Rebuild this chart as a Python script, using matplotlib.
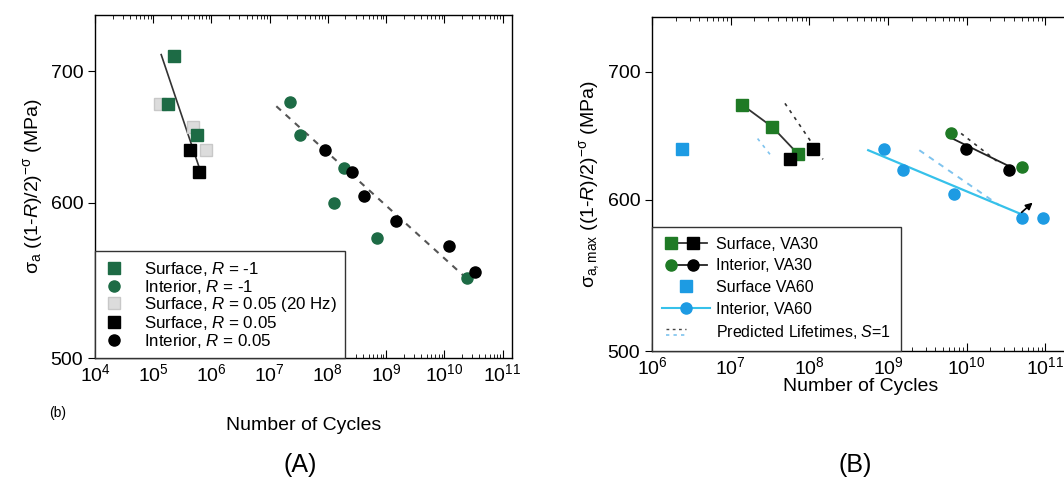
import matplotlib
matplotlib.use('Agg')
import matplotlib.pyplot as plt
from matplotlib.lines import Line2D
from matplotlib.legend_handler import HandlerBase
from matplotlib.ticker import NullLocator, FixedLocator, FixedFormatter, LogLocator

plt.rcParams['font.family'] = ['Liberation Sans', 'DejaVu Sans']
plt.rcParams['mathtext.fontset'] = 'custom'
plt.rcParams['mathtext.rm'] = 'Liberation Sans'
plt.rcParams['mathtext.it'] = 'Liberation Sans:italic'

# ---- panel A data ----
surf_m1_N = [2.3e5, 1.8e5, 5.7e5]
surf_m1_S = [713, 674, 650]
int_m1_N = [2.2e7, 3.3e7, 1.27e8, 1.9e8, 7.0e8, 2.4e10]
int_m1_S = [675, 650, 600, 625, 576, 549]
surf_20hz_N = [1.32e5, 4.9e5, 8.2e5]
surf_20hz_S = [674, 656, 638]
surf_005_N = [4.2e5, 6.2e5]
surf_005_S = [638, 622]
int_005_N = [8.9e7, 2.6e8, 4.2e8, 1.5e9, 1.2e10, 3.4e10]
int_005_S = [638, 622, 605, 587, 570, 553]
surf_fit_N = [1.37e5, 6.2e5]
surf_fit_S = [714, 625]
int_fit_N = [1.3e7, 2.4e10]
int_fit_S = [672, 549]

# ---- panel B data ----
va30_sq_green_N = [1.39e7, 3.4e7, 7.2e7]
va30_sq_green_S = [673, 655, 634]
va30_sq_black_N = [5.7e7, 1.1e8]
va30_sq_black_S = [630, 638]
va30_ci_green_N = [6.3e9, 5.1e10]
va30_ci_green_S = [650, 624]
va30_ci_black_N = [9.8e9, 3.5e10]
va30_ci_black_S = [638, 622]
va30_int_line_N = [6.6e9, 3.7e10]
va30_int_line_S = [646, 624]
va60_surf_N = [2.4e6]
va60_surf_S = [638]
va60_int_N = [8.9e8, 1.55e9, 6.9e9, 5.0e10, 9.3e10]
va60_int_S = [638, 622, 604, 587, 587]
va60_fit_N = [5.6e8, 4.8e10]
va60_fit_S = [637, 590]
pred_va30_surf_N = [4.9e7, 1.49e8]
pred_va30_surf_S = [674, 630]
pred_va60_surf_N = [2.2e7, 3.44e7]
pred_va60_surf_S = [646, 631]
pred_va60_int_N = [2.5e9, 2.6e10]
pred_va60_int_S = [637, 596]
pred_va30_int_N = [8.5e9, 2.5e10]
pred_va30_int_S = [650, 628]
arrow_N = [5.0e10, 6.9e10]
arrow_S = [591, 598]

ytick_vals = [500, 600, 700]

green_a = '#1d6b45'
green_b = '#1f7a25'
blue = '#1d9be3'
lblue = '#36c1ea'
pale_blue = '#7ec3ee'


class MarkerPair:
    def __init__(self, marker, c1, c2, lc):
        self.marker, self.c1, self.c2, self.lc = marker, c1, c2, lc


class DashPair:
    pass


class MarkerPairHandler(HandlerBase):
    def create_artists(self, legend, h, xd, yd, width, height, fontsize, trans):
        y = height / 2 - yd
        x0 = -xd
        line = Line2D([x0 + width * 0.2, x0 + width * 0.95], [y, y], color=h.lc,
                      lw=1.3, transform=trans)
        m1 = Line2D([x0 + width * 0.2], [y], ls='none', marker=h.marker,
                    color=h.c1, ms=8, transform=trans)
        m2 = Line2D([x0 + width * 0.66], [y], ls='none', marker=h.marker,
                    color=h.c2, ms=8, transform=trans)
        return [line, m1, m2]


class DashPairHandler(HandlerBase):
    def create_artists(self, legend, h, xd, yd, width, height, fontsize, trans):
        y = height / 2 - yd
        x0 = -xd + width * 0.1
        x1 = -xd + width * 0.5
        a = Line2D([x0, x1], [y + 2, y + 2], color='#444444', lw=1.0,
                   ls=(0, (2, 2.5)), transform=trans)
        b = Line2D([x0, x1], [y - 2, y - 2], color=pale_blue, lw=1.2,
                   ls=(0, (2, 2.5)), transform=trans)
        return [a, b]


fig = plt.figure(figsize=(10.64, 4.86), dpi=100)
axA = fig.add_axes([95 / 1064, 1 - 358 / 486, 417 / 1064, 343 / 486])
axB = fig.add_axes([652 / 1064, 1 - 351 / 486, 417 / 1064, 334 / 486])


def style(ax, xlim):
    ax.set_xscale('log')
    ax.set_yscale('log')
    ax.set_xlim(*xlim)
    ax.set_ylim(500, 748)
    ax.xaxis.set_major_locator(LogLocator(base=10, numticks=20))
    ax.xaxis.set_minor_locator(LogLocator(base=10, subs=range(2, 10), numticks=20))
    ax.yaxis.set_major_locator(FixedLocator(ytick_vals))
    ax.yaxis.set_major_formatter(FixedFormatter([str(v) for v in ytick_vals]))
    ax.yaxis.set_minor_locator(NullLocator())
    ax.tick_params(axis='x', which='both', direction='in', top=True, labelsize=14)
    ax.tick_params(axis='x', which='major', length=6)
    ax.tick_params(axis='x', which='minor', length=3)
    ax.tick_params(axis='y', direction='out', labelsize=14, length=5)
    for s in ax.spines.values():
        s.set_linewidth(1.0)


ms = 8
# panel A
style(axA, (1e4, 1.45e11))
axA.plot(surf_fit_N, surf_fit_S, color='#333333', lw=1.2)
axA.plot(int_fit_N, int_fit_S, color='#555555', lw=1.5, ls=(0, (3, 3)))
axA.plot(surf_20hz_N, surf_20hz_S, 's', color='#dcdcdc', mec='#c8c8c8', ms=ms)
axA.plot(surf_m1_N, surf_m1_S, 's', color=green_a, ms=ms)
axA.plot(surf_005_N, surf_005_S, 's', color='black', ms=ms)
axA.plot(int_m1_N, int_m1_S, 'o', color=green_a, ms=ms)
axA.plot(int_005_N, int_005_S, 'o', color='black', ms=ms)
axA.set_ylabel('σ$_\\mathregular{a}$ ((1-$R$)/2)$^\\mathregular{-σ}$ (MPa)', fontsize=14)
axA.set_xlabel('Number of Cycles', fontsize=14, labelpad=23)

hA = [Line2D([], [], ls='none', marker='s', color=green_a, ms=ms),
      Line2D([], [], ls='none', marker='o', color=green_a, ms=ms),
      Line2D([], [], ls='none', marker='s', color='#dcdcdc', mec='#c8c8c8', ms=ms),
      Line2D([], [], ls='none', marker='s', color='black', ms=ms),
      Line2D([], [], ls='none', marker='o', color='black', ms=ms)]
lA = ['Surface, $R$ = -1', 'Interior, $R$ = -1', 'Surface, $R$ = 0.05 (20 Hz)',
      'Surface, $R$ = 0.05', 'Interior, $R$ = 0.05']
legA = axA.legend(hA, lA, loc='lower left', borderaxespad=0, fontsize=12.2,
                  fancybox=False, edgecolor='#333333', framealpha=1,
                  labelspacing=-0.02, handlelength=1.2, handletextpad=1.2,
                  borderpad=0.5)
legA.get_frame().set_linewidth(1.0)

# panel B
style(axB, (1e6, 2e11))
axB.plot(pred_va30_surf_N, pred_va30_surf_S, color='#333333', lw=1.2, ls=(0, (2, 3)))
axB.plot(pred_va60_surf_N, pred_va60_surf_S, color=pale_blue, lw=1.2, ls=(0, (2, 3)))
axB.plot(pred_va60_int_N, pred_va60_int_S, color=pale_blue, lw=1.4, ls=(0, (3, 3)))
axB.plot(pred_va30_int_N, pred_va30_int_S, color='#333333', lw=1.2, ls=(0, (2, 3)))
axB.plot(va30_sq_green_N, va30_sq_green_S, color='#333333', lw=1.3)
axB.plot(va30_int_line_N, va30_int_line_S, color='#222222', lw=1.3)
axB.plot(va60_fit_N, va60_fit_S, color=lblue, lw=1.6)
axB.plot(va30_sq_green_N, va30_sq_green_S, 's', color=green_b, ms=ms)
axB.plot(va30_sq_black_N, va30_sq_black_S, 's', color='black', ms=ms)
axB.plot(va30_ci_green_N, va30_ci_green_S, 'o', color=green_b, ms=ms)
axB.plot(va30_ci_black_N, va30_ci_black_S, 'o', color='black', ms=ms)
axB.plot(va60_surf_N, va60_surf_S, 's', color=blue, ms=ms)
axB.plot(va60_int_N, va60_int_S, 'o', color=blue, ms=ms)
axB.annotate('', xy=(arrow_N[1], arrow_S[1]), xytext=(arrow_N[0], arrow_S[0]),
             arrowprops=dict(arrowstyle='-|>', color='black', lw=1.2,
                             mutation_scale=10, shrinkA=0, shrinkB=0))
axB.set_ylabel('σ$_\\mathregular{a,max}$ ((1-$R$)/2)$^\\mathregular{-σ}$ (MPa)', fontsize=14)
axB.set_xlabel('Number of Cycles', fontsize=14, labelpad=0)

h_surf30 = MarkerPair('s', green_b, 'black', '#333333')
h_int30 = MarkerPair('o', green_b, 'black', '#222222')
h_surf60 = Line2D([], [], ls='none', marker='s', color=blue, ms=ms)
h_int60 = Line2D([], [], color=lblue, marker='o', mfc=blue, mec=blue, ms=ms)
h_pred = DashPair()
hB = [h_surf30, h_int30, h_surf60, h_int60, h_pred]
lB = ['Surface, VA30', 'Interior, VA30', 'Surface VA60', 'Interior, VA60',
      'Predicted Lifetimes, $S$=1']
legB = axB.legend(hB, lB, loc='lower left', borderaxespad=0, fontsize=11.5,
                  fancybox=False, edgecolor='#333333', framealpha=1,
                  labelspacing=0.42, handlelength=3.0, handletextpad=0.4,
                  borderpad=0.6,
                  handler_map={MarkerPair: MarkerPairHandler(),
                               DashPair: DashPairHandler()})
legB.get_frame().set_linewidth(1.0)

fig.text(58 / 1064, 1 - 413 / 486, '(b)', fontsize=10, ha='center', va='center')
fig.text(300 / 1064, 1 - 465 / 486, '(A)', fontsize=18, ha='center', va='center')
fig.text(855 / 1064, 1 - 465 / 486, '(B)', fontsize=18, ha='center', va='center')

fig.savefig('out.png', dpi=100)
